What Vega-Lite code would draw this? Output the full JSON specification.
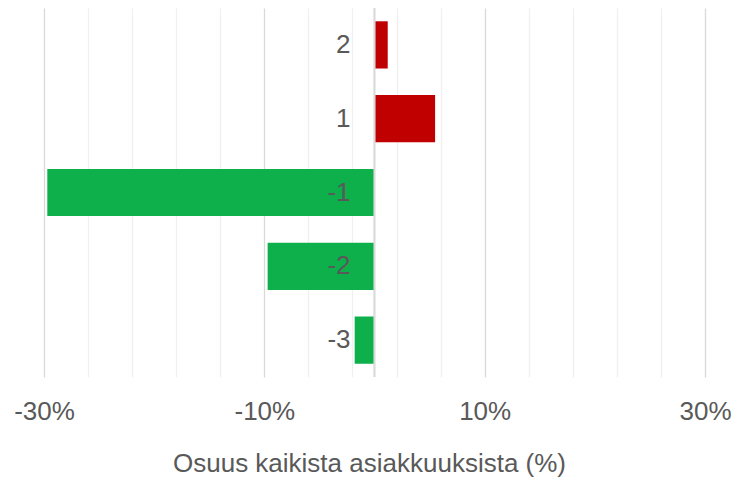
{
  "$schema": "https://vega.github.io/schema/vega-lite/v6.json",
  "autosize": {"type": "none"},
  "padding": {"left": 44, "top": 8, "right": 31, "bottom": 102},
  "width": 661,
  "height": 369,
  "background": "white",
  "config": {"view": {"stroke": null}, "font": "Liberation Sans"},
  "data": {
    "values": [
      {"category": "2", "value": 1.2},
      {"category": "1", "value": 5.5},
      {"category": "-1", "value": -29.7},
      {"category": "-2", "value": -9.7},
      {"category": "-3", "value": -1.8}
    ]
  },
  "encoding": {
    "y": {
      "field": "category",
      "type": "nominal",
      "sort": ["2", "1", "-1", "-2", "-3"],
      "scale": {"paddingInner": 0.36, "paddingOuter": 0.18},
      "axis": null
    }
  },
  "layer": [
    {
      "mark": {"type": "bar"},
      "encoding": {
        "x": {
          "field": "value",
          "type": "quantitative",
          "scale": {"domain": [-30, 30], "nice": false, "zero": false},
          "axis": {
            "values": [-30, -26, -22, -18, -14, -10, -6, -2, 2, 6, 10, 14, 18, 22, 26, 30],
            "labelExpr": "(abs(datum.value) == 10 || abs(datum.value) == 30) ? ((datum.value < 0 ? '-' : '') + abs(datum.value) + '%') : ''",
            "labelFontSize": 26,
            "labelColor": "#595959",
            "labelPadding": 21,
            "labelFlush": false,
            "labelOverlap": false,
            "ticks": false,
            "domain": false,
            "grid": true,
            "gridColor": {"condition": {"test": "abs(datum.value) == 10 || abs(datum.value) == 30", "value": "#d9d9d9"}, "value": "#f0f0f0"},
            "gridWidth": 1.3,
            "title": "Osuus kaikista asiakkuuksista (%)",
            "titleFontSize": 26,
            "titleFontWeight": "normal",
            "titleColor": "#595959",
            "titlePadding": 26,
            "titleX": 325
          }
        },
        "color": {
          "condition": {"test": "datum.value > 0", "value": "#C00000"},
          "value": "#0DB04B"
        }
      }
    },
    {
      "mark": {"type": "rule", "color": "#d9d9d9", "strokeWidth": 1.3},
      "encoding": {
        "x": {"datum": 0, "type": "quantitative"},
        "y": null
      }
    },
    {
      "mark": {"type": "text", "align": "right", "baseline": "middle", "dx": -24, "fontSize": 26, "color": "#595959"},
      "encoding": {
        "x": {"datum": 0, "type": "quantitative"},
        "text": {"field": "category"}
      }
    }
  ]
}
